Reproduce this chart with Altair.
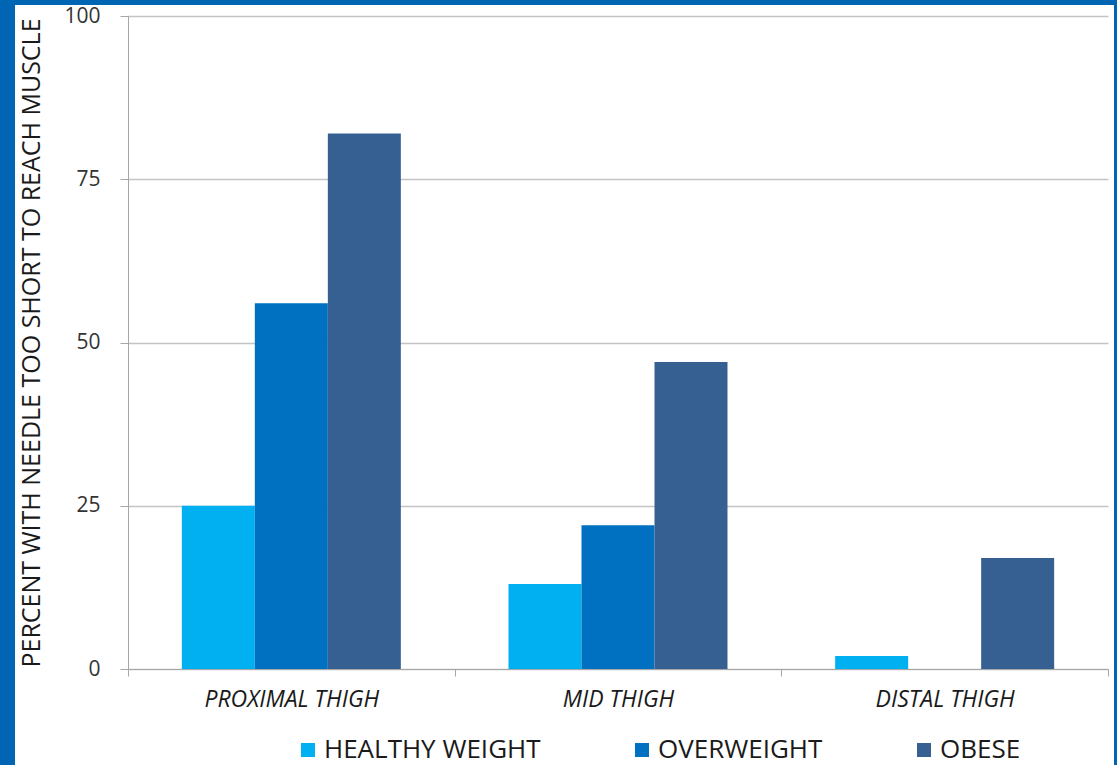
import altair as alt
import pandas as pd

sites = ["PROXIMAL THIGH", "MID THIGH", "DISTAL THIGH"]
groups = ["HEALTHY WEIGHT", "OVERWEIGHT", "OBESE"]
healthy = [25, 13, 2]
overweight = [56, 22, 0]
obese = [82, 47, 17]
colors = ["#00B0F0", "#0070C0", "#366092"]
y_ticks = [0, 25, 50, 75, 100]
y_title = "PERCENT WITH NEEDLE TOO SHORT TO REACH MUSCLE"

rows = []
for i, s in enumerate(sites):
    for g, vals in zip(groups, [healthy, overweight, obese]):
        rows.append({"site": s, "group": g, "value": vals[i]})
df = pd.DataFrame(rows)

W, H = 980, 653
FONT = "Open Sans"
TEXT = "#1a1a1a"
BORDER = "#0066B3"

bars = alt.Chart(df).mark_bar().encode(
    x=alt.X(
        "site:N", sort=sites,
        scale=alt.Scale(paddingInner=0, paddingOuter=0),
        axis=alt.Axis(title=None, labelAngle=0, labelFont=FONT, labelFontStyle="italic",
                      labelFontSize=23, labelColor=TEXT, tickBand="extent", ticks=True,
                      tickSize=7, tickColor="#a6a6a6", domainColor="#a6a6a6",
                      labelPadding=12, grid=False),
    ),
    xOffset=alt.XOffset("group:N", sort=groups,
                        scale=alt.Scale(paddingInner=0, paddingOuter=0.7375)),
    y=alt.Y(
        "value:Q",
        scale=alt.Scale(domain=[0, 100], nice=False),
        axis=alt.Axis(values=y_ticks, title=y_title, titleFont=FONT, titleFontSize=25,
                      titleFontWeight="normal", titleColor=TEXT, titleX=-97,
                      titleBaseline="middle", labelFont=FONT, labelFontSize=21,
                      labelColor="#333333", labelPadding=20, tickSize=8,
                      tickColor="#a6a6a6", domainColor="#a6a6a6", gridColor="#c4c4c4",
                      gridWidth=1.5),
    ),
    color=alt.Color(
        "group:N", sort=groups,
        scale=alt.Scale(domain=groups, range=colors),
        legend=alt.Legend(title=None, orient="none", legendX=167, legendY=721,
                          direction="horizontal", symbolType="square", symbolSize=196,
                          symbolStrokeWidth=0, labelFont=FONT, labelFontSize=26,
                          labelColor=TEXT, labelOffset=3, columnPadding=88,
                          labelLimit=400),
    ),
)

one = pd.DataFrame({"k": [0]})

def strip(x0, x1, y0, y1):
    return alt.Chart(one).mark_rect(color=BORDER).encode(
        x=alt.value(x0), x2=alt.value(x1), y=alt.value(y0), y2=alt.value(y1)
    )

frame = strip(-128, -113, -16, 760) + strip(-128, 989, -16, -11) + strip(986, 989, -16, 760)

chart = alt.layer(frame, bars).properties(
    width=W, height=H,
    autosize=alt.AutoSizeParams(type="none"),
    padding={"left": 128, "top": 16, "right": 9, "bottom": 96},
).configure(background="white").configure_view(stroke=None)

chart.save("out.html", embed_options={"renderer": "svg", "actions": False})
